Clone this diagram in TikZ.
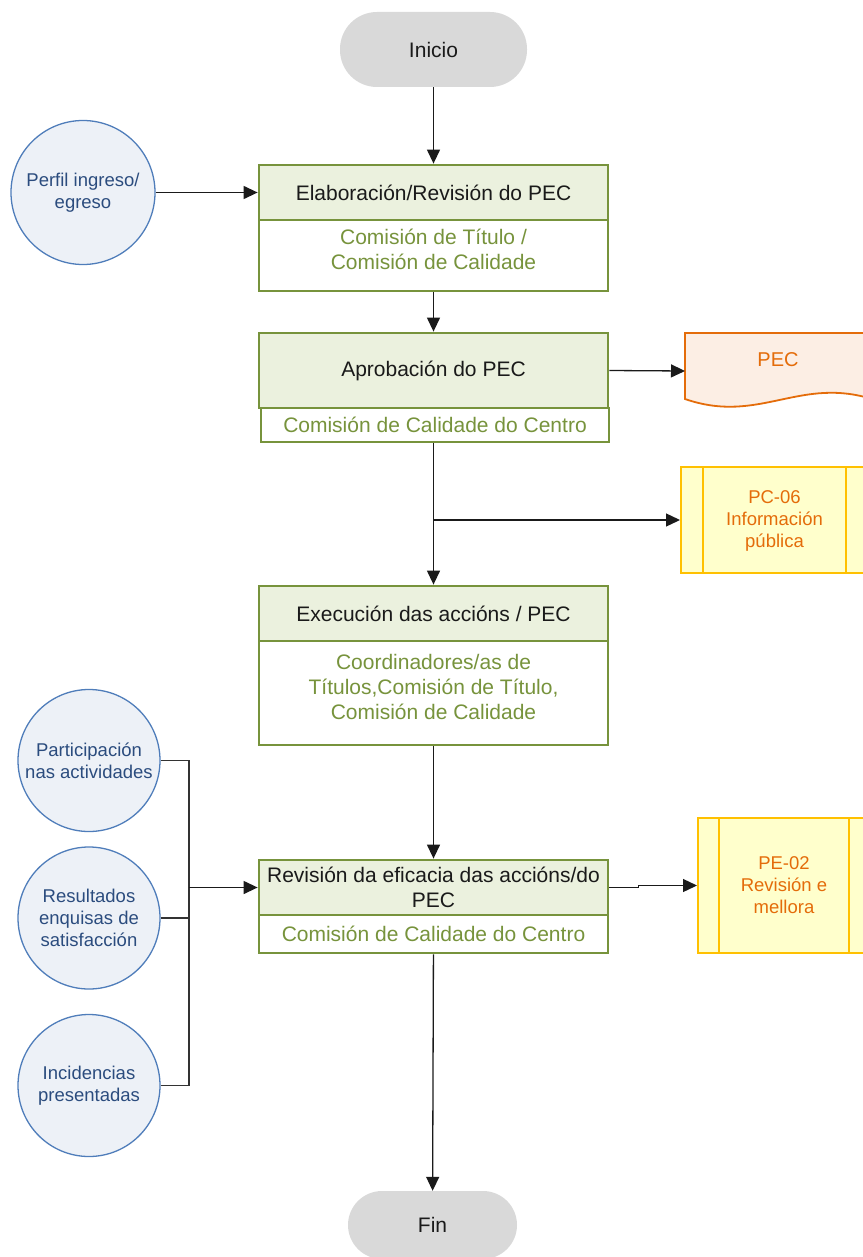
\documentclass[tikz,border=0pt]{standalone}
\usepackage{fontspec}
\setmainfont{Liberation Sans}
\usetikzlibrary{arrows.meta}
\definecolor{grn}{HTML}{77933C}
\definecolor{hdr}{HTML}{EBF1DE}
\definecolor{pill}{HTML}{D9D9D9}
\definecolor{circfill}{HTML}{EDF1F7}
\definecolor{circdraw}{HTML}{4F7DBA}
\definecolor{circtext}{HTML}{2B4C7E}
\definecolor{orng}{HTML}{E46C0A}
\definecolor{docfill}{HTML}{FCEEE4}
\definecolor{procfill}{HTML}{FFFFCC}
\definecolor{procdraw}{HTML}{FFC000}
\definecolor{linec}{HTML}{1A1A1A}
\tikzset{
  bigfont/.style={font=\fontsize{21}{25}\selectfont},
  smallfont/.style={font=\fontsize{18.5}{22}\selectfont},
  terminal/.style={fill=pill, rounded corners=34pt, inner sep=0pt, bigfont, text=linec},
  hdrbox/.style={draw=grn, line width=2.8pt, fill=hdr, minimum width=349pt, inner sep=0pt, align=center, bigfont, text=linec},
  bodybox/.style={draw=grn, line width=2.8pt, fill=white, minimum width=349pt, inner sep=0pt, align=center, bigfont, text=grn},
  inputcirc/.style={circle, draw=circdraw, line width=1.3pt, fill=circfill, minimum size=142pt, inner sep=0pt, align=center, smallfont, text=circtext},
  procbox/.style={draw=procdraw, line width=2pt, fill=procfill, inner sep=0pt, align=center, smallfont, text=orng},
  proctext/.style={align=center, smallfont, text=orng, inner sep=0pt},
  conn/.style={draw=linec, line width=1.3pt},
  arr/.style={conn, -{Triangle[length=14pt,width=13pt]}},
}
\begin{document}
\begin{tikzpicture}[x=1pt,y=-1pt]
\useasboundingbox (0,0) rectangle (862,1257);

% terminals
\node[terminal, minimum width=187pt, minimum height=75pt, rounded corners=37pt] (inicio) at (433.5,49.5) {Inicio};
\node[terminal, minimum width=169pt, minimum height=68pt] (fin) at (432.5,1225) {Fin};

% box 1
\node[bodybox, minimum height=71pt, text depth=13pt] (b1) at (433.5,255.5) {Comisión de Título /\\Comisión de Calidade};
\node[hdrbox, minimum height=55pt] (h1) at (433.5,192.5) {Elaboración/Revisión do PEC};

% box 2
\node[bodybox, minimum height=34pt, minimum width=348pt] (b2) at (435,425) {Comisión de Calidade do Centro};
\node[hdrbox, minimum height=75pt] (h2) at (433.5,370.5) {Aprobación do PEC};

% box 3
\node[bodybox, minimum height=104pt, text depth=13pt] (b3) at (433.5,693) {Coordinadores/as de\\Títulos,Comisión de Título,\\Comisión de Calidade};
\node[hdrbox, minimum height=55pt] (h3) at (433.5,613.5) {Execución das accións / PEC};

% box 4
\node[bodybox, minimum height=38pt] (b4) at (433.5,934) {Comisión de Calidade do Centro};
\node[hdrbox, minimum height=55pt] (h4) at (433.5,887.5) {Revisión da eficacia das accións/do\\PEC};

% document PEC
\draw[draw=orng, line width=1.8pt, fill=docfill]
  (685,333) -- (875,333) -- (875,400)
  .. controls (800,375) and (760,425) .. (685,399) -- cycle;
\node[proctext, font=\fontsize{20}{24}\selectfont] (pec) at (778,360) {PEC};
\coordinate (pecin) at (685,371);

% subprocesses
\node[procbox, minimum width=187pt, minimum height=106pt, text depth=1pt] (pc06) at (774.5,520) {PC-06\\Información\\pública};
\draw[draw=procdraw, line width=2pt] ([xshift=23pt]pc06.north west) -- ([xshift=23pt]pc06.south west)
  ([xshift=-23pt]pc06.north east) -- ([xshift=-23pt]pc06.south east);
\node[procbox, minimum width=172pt, minimum height=135pt] (pe02) at (784,885.5) {PE-02\\Revisión e\\mellora};
\draw[draw=procdraw, line width=2pt] ([xshift=22pt]pe02.north west) -- ([xshift=22pt]pe02.south west)
  ([xshift=-22pt]pe02.north east) -- ([xshift=-22pt]pe02.south east);

% input circles
\node[inputcirc, minimum size=144pt] (perfil) at (83,192.5) {Perfil ingreso/\\egreso};
\node[inputcirc] (part) at (89,760.5) {Participación\\nas actividades};
\node[inputcirc] (res) at (89,918) {Resultados\\enquisas de\\satisfacción};
\node[inputcirc] (inc) at (89,1085.5) {Incidencias\\presentadas};

% connectors
\draw[arr] (inicio) -- (h1);
\draw[arr] (perfil) -- (h1.west);
\draw[arr] (b1) -- (h2);
\draw[arr] (h2.east) -- (pecin);
\coordinate (split) at (433.5,520);
\draw[arr] (b2.south -| h3.north) -- (h3.north);
\draw[arr] (split) -- (pc06.west);
\draw[arr] (b3) -- (h4);
\draw[arr] (h4.east) -- ++(29,0) |- (pe02.west);
\draw[arr] (b4) -- (fin);

\coordinate (bus) at (189,887.5);
\draw[conn, draw=black!80] (part.east) -| (bus);
\draw[conn, draw=black!80] (inc.east) -| (bus);
\draw[conn, draw=black!80] (res.east) -| (bus);
\draw[arr] (bus) -- (h4.west);
\end{tikzpicture}
\end{document}
